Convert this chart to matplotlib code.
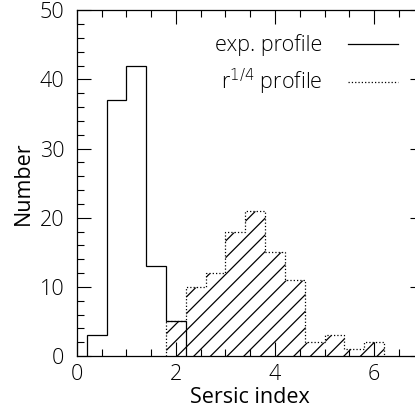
import numpy as np
import matplotlib
matplotlib.use("Agg")
import matplotlib.pyplot as plt
from matplotlib.ticker import MultipleLocator

plt.rcParams['font.family'] = ['Open Sans', 'DejaVu Sans']
plt.rcParams['font.weight'] = 'light'
plt.rcParams['hatch.linewidth'] = 0.9

# Histogram bin edges (Sersic index) and counts
bin_edges = np.round(np.arange(0.2, 6.21, 0.4), 2)
exp_counts = [3, 37, 42, 13, 5, 0, 0, 0, 0, 0, 0, 0, 0, 0, 0]
dev_counts = [0, 0, 0, 0, 5, 10, 12, 18, 21, 15, 11, 2, 3, 1, 2]

exp_label = "exp. profile"
dev_label = r"r$^{1/4}$ profile"

fs = 15.5

fig = plt.figure(figsize=(4.15, 4.16), dpi=100)
ax = fig.add_axes([0.1855, 0.1442, 0.835, 0.831])

# exponential profile: solid step outline
exp_e = bin_edges[:6]
ax.stairs(exp_counts[:5], exp_e, color='black', linewidth=0.9,
          label=exp_label, baseline=0)

# r^1/4 profile: hatched with dotted outline
dev_e = bin_edges[4:]
ax.stairs(dev_counts[4:], dev_e, fill=True, facecolor='none',
          edgecolor='black', hatch='//', linewidth=0.9, linestyle=':',
          baseline=0)
ax.plot([], [], color='black', linewidth=0.9, linestyle=':', label=dev_label)

ax.set_xlim(0, 7)
ax.set_ylim(0, 50)
ax.xaxis.set_major_locator(MultipleLocator(2))
ax.xaxis.set_minor_locator(MultipleLocator(0.5))
ax.yaxis.set_major_locator(MultipleLocator(10))
ax.yaxis.set_minor_locator(MultipleLocator(2))
ax.tick_params(which='both', direction='in', top=True, right=True,
               labelsize=fs, width=0.8)
ax.tick_params(axis='x', which='major', length=10, pad=6)
ax.tick_params(axis='y', which='major', length=10, pad=9)
ax.tick_params(which='minor', length=5)
for s in ax.spines.values():
    s.set_linewidth(0.9)

ax.set_xlabel("Sersic index", fontsize=fs, labelpad=1)
ax.set_ylabel("Number", fontsize=fs, labelpad=4)

ax.legend(loc='upper right', bbox_to_anchor=(0.926, 0.93), frameon=False,
          markerfirst=False, fontsize=fs, handlelength=2.3,
          handletextpad=1.2, labelspacing=0.5, borderpad=0,
          borderaxespad=0)

fig.savefig("out.png", dpi=100)
